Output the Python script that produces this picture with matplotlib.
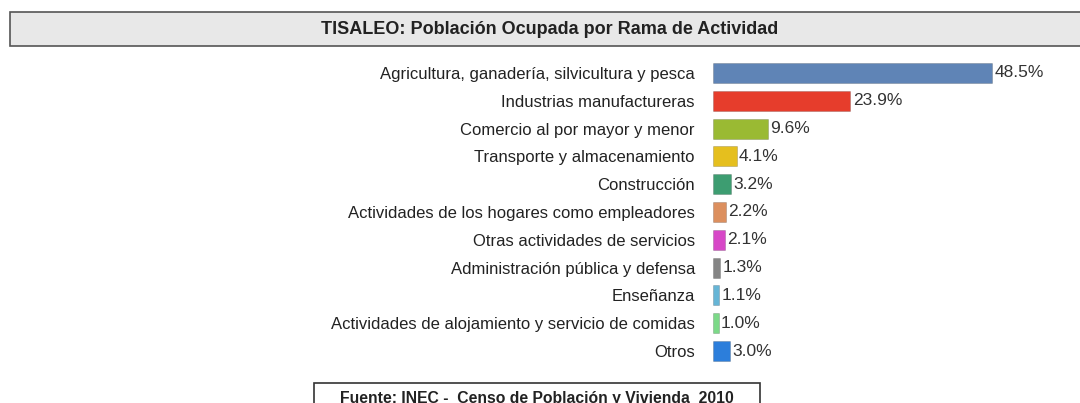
import matplotlib.pyplot as plt
from matplotlib.patches import Rectangle

plt.rcParams['font.family'] = ['Liberation Sans', 'DejaVu Sans']

# datos: poblacion ocupada por rama de actividad (%)
ramas = ['Agricultura, ganadería, silvicultura y pesca',
         'Industrias manufactureras',
         'Comercio al por mayor y menor',
         'Transporte y almacenamiento',
         'Construcción',
         'Actividades de los hogares como empleadores',
         'Otras actividades de servicios',
         'Administración pública y defensa',
         'Enseñanza',
         'Actividades de alojamiento y servicio de comidas',
         'Otros']
porcentajes = [48.5, 23.9, 9.6, 4.1, 3.2, 2.2, 2.1, 1.3, 1.1, 1.0, 3.0]
colores = ['#5f84b6', '#e63d2c', '#9aba33', '#e5bf1e', '#3d9d71', '#dc8f5e',
           '#d747c7', '#858585', '#66b5d6', '#7cd988', '#2c7edb']
titulo = 'TISALEO: Población Ocupada por Rama de Actividad'
fuente = 'Fuente: INEC -  Censo de Población y Vivienda  2010'

fig = plt.figure(figsize=(10.8, 4.03), dpi=100)

# caja del titulo
fig.patches.append(Rectangle((10/1080, 1-46/403), 1.1, 34/403, transform=fig.transFigure,
                             facecolor='#e8e8e8', edgecolor='#555555', linewidth=1.2))
fig.text(550/1080, 1-29/403, titulo, ha='center', va='center',
         fontsize=13, fontweight='bold', color='#222222')

ax = fig.add_axes([713/1080, 0.0945, 367/1080, 0.759])
pos = list(range(len(ramas)))
ax.barh(pos, porcentajes, height=0.72, color=colores, edgecolor='#00000030', linewidth=0.6)
ax.set_xlim(0, 367/5.75)
ax.set_ylim(len(ramas)-0.5, -0.5)
ax.set_yticks(pos)
ax.set_yticklabels(ramas, fontsize=12, color='#222222')
ax.tick_params(axis='y', length=0, pad=13)
ax.set_xticks([])
for s in ax.spines.values():
    s.set_visible(False)

for i, v in enumerate(porcentajes):
    ax.text(v + 0.4, i, f'{v:.1f}%', va='center', ha='left', fontsize=12.5, color='#333333')

# caja de la fuente
fig.patches.append(Rectangle((314/1080, -0.05), 446/1080, 1-383/403+0.05, transform=fig.transFigure,
                             facecolor='white', edgecolor='#333333', linewidth=1.2))
fig.text(537/1080, 1-398/403, fuente, ha='center', va='center',
         fontsize=11.3, fontweight='bold', color='#222222')

fig.savefig('out.png', dpi=100)
